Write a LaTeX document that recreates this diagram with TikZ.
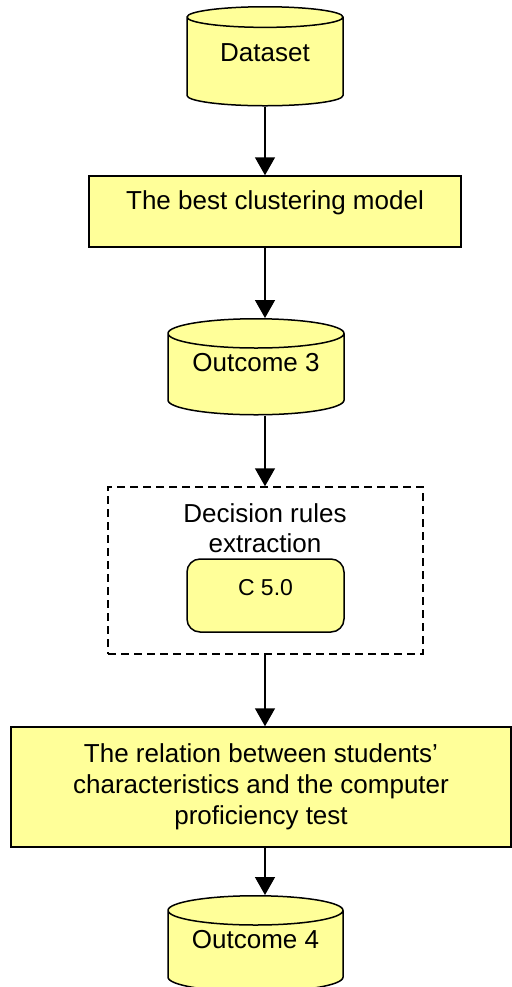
\documentclass[tikz,border=0pt]{standalone}
\usepackage{fontspec}
\setmainfont{Liberation Sans}
\usepackage{xcolor}
\usetikzlibrary{shapes.geometric, positioning, arrows.meta}
\definecolor{boxyellow}{HTML}{FFFF99}
\newcommand{\liftup}[2][0pt]{\raisebox{#1}[0pt][0pt]{#2}} % text a bit above the middle

\begin{document}
\begin{tikzpicture}[x=0.5pt,y=-0.5pt,
 store/.style={cylinder, shape border rotate=90, aspect=0.23, draw, line width=0.75pt, fill=boxyellow, inner sep=0pt, anchor=north, font=\fontsize{13}{15.5}\selectfont},
 process/.style={rectangle, draw, line width=0.75pt, fill=boxyellow, align=center, font=\fontsize{13}{15.5}\selectfont},
 arr/.style={-{Triangle[width=10pt,length=9pt]}, line width=0.75pt}] %styles of the flow chart
 \useasboundingbox (0,0) rectangle (512,987); % page size in pixels
 \coordinate (axis) at (265,0); % every arrow runs down this line
 % data stores and steps
 \node[store, minimum width=78pt, minimum height=49.5pt] (dataset) at (265,6) {\liftup{Dataset}};
 \node[process, minimum width=186pt, minimum height=35.5pt, text height=9.5pt, text depth=11.7pt] (best) at (275,211.5) {The best clustering model};
 \node[store, minimum width=88pt, minimum height=48pt] (outthree) at (256,318) {\liftup[1.5pt]{Outcome 3}};
 % decision rules block
 \node[draw, dashed, dash pattern=on 4pt off 2.5pt, line width=0.75pt, minimum width=157.5pt, minimum height=83.5pt] (frame) at (265.5,570.5) {};
 \node[align=center, font=\fontsize{13}{15}\selectfont] (title) at (265,528) {Decision rules\\extraction};
 \node[process, rounded corners=6.5pt, minimum width=78.5pt, minimum height=36.5pt, text height=8pt, text depth=8.3pt, font=\fontsize{11.5}{14}\selectfont] (cfive) at (265.5,595.5) {C 5.0};
 %
 \node[process, minimum width=250pt, minimum height=60pt] (relation) at (261,787) {The relation between students’\\characteristics and the computer\\proficiency test};
 \node[store, minimum width=87.5pt, minimum height=48pt] (outfour) at (255.5,895) {\liftup[1.5pt]{Outcome 4}};
 % arrows
 \draw[arr] (dataset.south -| axis) -- (best.north -| axis);
 \draw[arr] (best.south -| axis) -- (outthree.north -| axis);
 \draw[arr] (outthree.south -| axis) -- (frame.north -| axis);
 \draw[arr] (frame.south -| axis) -- (relation.north -| axis);
 \draw[arr] (relation.south -| axis) -- (outfour.north -| axis);
\end{tikzpicture}
\end{document}
